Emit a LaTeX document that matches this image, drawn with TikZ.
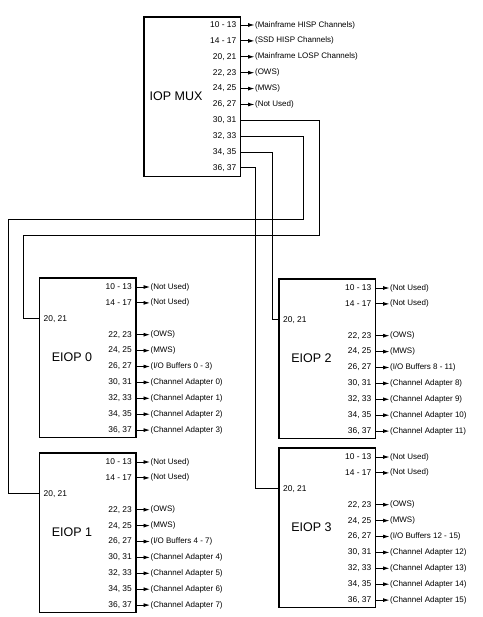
\documentclass[tikz,border=0pt]{standalone}
\usepackage{fontspec}
\setmainfont{Liberation Sans}
\usetikzlibrary{arrows.meta}
\newcommand\myfs{\fontsize{8}{9}\selectfont}
\newcommand\mypfs{\fontsize{8.4}{9}\selectfont}
% #1 name, #2 x of right edge, #3 y, #4 port label, #5 destination
\newcommand\myout[5]{%
  \coordinate (#1) at (#2,#3);
  \node[portlbl] (#1l) at ([xshift=-4pt]#1) {#4};
  \node[destlbl] (#1d) at ([xshift=14pt]#1) {#5};
  \draw[outarrow] (#1) -- (#1d.west);
}
% #1 name, #2 x of right edge, #3 y, #4 port label (no arrow)
\newcommand\myport[4]{%
  \coordinate (#1) at (#2,#3);
  \node[portlbl] (#1l) at ([xshift=-4pt]#1) {#4};
}
% #1 name, #2 left x, #3 top y, #4 number, #5 buffers, #6 first adapter
\newcommand\myeiop[6]{%
  \node[boxnode] (#1) at (#2,#3) {};
  \node[titlelbl] (#1t) at (#2+32.5,#3+79.5) {EIOP #4};
  \myout{#1a}{#2+96.5}{#3+9}{10 - 13}{(Not Used)}
  \myout{#1b}{#2+96.5}{#3+24.9}{14 - 17}{(Not Used)}
  \coordinate (#1in) at (#2,#3+40.8);
  \node[inlbl] (#1inl) at ([xshift=4pt]#1in) {20, 21};
  \myout{#1c}{#2+96.5}{#3+56.7}{22, 23}{(OWS)}
  \myout{#1d}{#2+96.5}{#3+72.6}{24, 25}{(MWS)}
  \myout{#1e}{#2+96.5}{#3+88.5}{26, 27}{(I/O Buffers #5)}
  \myout{#1f}{#2+96.5}{#3+104.4}{30, 31}{(Channel Adapter \the\numexpr#6\relax)}
  \myout{#1g}{#2+96.5}{#3+120.3}{32, 33}{(Channel Adapter \the\numexpr#6+1\relax)}
  \myout{#1h}{#2+96.5}{#3+136.2}{34, 35}{(Channel Adapter \the\numexpr#6+2\relax)}
  \myout{#1i}{#2+96.5}{#3+152.1}{36, 37}{(Channel Adapter \the\numexpr#6+3\relax)}
}
\begin{document}
\begin{tikzpicture}[x=1pt,y=-1pt,
  boxnode/.style={draw,line width=1.8pt,inner sep=0,outer sep=0,anchor=north west,
    minimum width=96.5pt,minimum height=159.5pt},
  portlbl/.style={font=\mypfs,inner sep=0,anchor=east},
  inlbl/.style={font=\mypfs,inner sep=0,anchor=west},
  destlbl/.style={font=\myfs,inner sep=0.4pt,anchor=west},
  titlelbl/.style={font=\fontsize{12.5}{14}\selectfont,inner sep=0},
  outarrow/.style={line width=0.9pt,-{Latex[length=6.5pt,width=4pt]}},
  wire/.style={line width=0.9pt}]
\useasboundingbox (0,0) rectangle (482,617);

% IOP MUX
\node[boxnode] (mux) at (144,17) {};
\node[titlelbl] (muxt) at (176,96) {IOP MUX};
\myout{mux10}{240.5}{25}{10 - 13}{(Mainframe HISP Channels)}
\myout{mux14}{240.5}{40.9}{14 - 17}{(SSD HISP Channels)}
\myout{mux20}{240.5}{56.8}{20, 21}{(Mainframe LOSP Channels)}
\myout{mux22}{240.5}{72.7}{22, 23}{(OWS)}
\myout{mux24}{240.5}{88.6}{24, 25}{(MWS)}
\myout{mux26}{240.5}{104.5}{26, 27}{(Not Used)}
\myport{mux30}{240.5}{120.2}{30, 31}
\myport{mux32}{240.5}{136.1}{32, 33}
\myport{mux34}{240.5}{152}{34, 35}
\myport{mux36}{240.5}{167.9}{36, 37}

% EIOPs
\myeiop{e0}{39.5}{278}{0}{0 - 3}{0}
\myeiop{e1}{39.5}{453}{1}{4 - 7}{4}
\myeiop{e2}{279}{279}{2}{8 - 11}{8}
\myeiop{e3}{279}{448}{3}{12 - 15}{12}

% wires
\coordinate (w0a) at (319,235);
\coordinate (w0b) at (23.5,235);
\coordinate (w1a) at (303.5,219);
\coordinate (w1b) at (8,219);
\coordinate (w2) at (272,0);
\coordinate (w3) at (255.5,0);
\draw[wire] (mux30) -| (w0a) -- (w0b) |- (e0in);
\draw[wire] (mux32) -| (w1a) -- (w1b) |- (e1in);
\draw[wire] (mux34) -| (w2 |- e2in) -- (e2in);
\draw[wire] (mux36) -| (w3 |- e3in) -- (e3in);
\end{tikzpicture}
\end{document}
